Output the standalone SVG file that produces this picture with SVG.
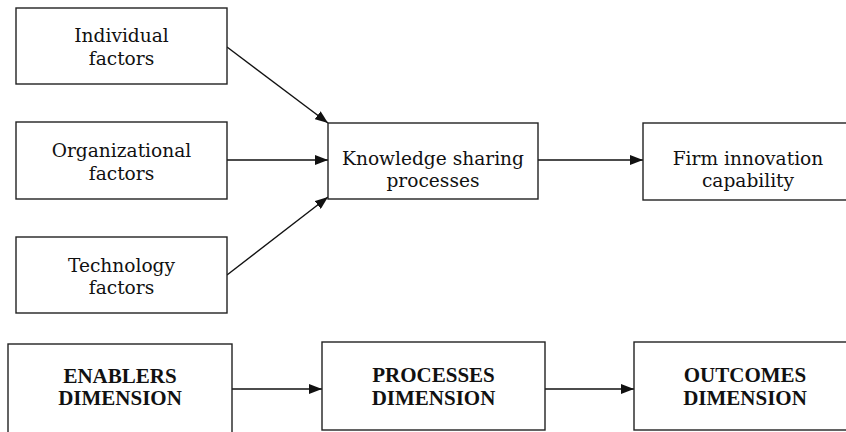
<svg xmlns="http://www.w3.org/2000/svg" width="846" height="432" viewBox="0 0 846 432">
<style>
.box{fill:#fff;stroke:#222;stroke-width:1.4}
.t{font-family:"DejaVu Serif","Liberation Serif",serif;font-size:18.6px;fill:#111;text-anchor:middle}
.b{font-family:"Liberation Serif",serif;font-weight:bold;font-size:21px;fill:#111;text-anchor:middle}
.c{stroke:#111;stroke-width:1.4;fill:none;marker-end:url(#ah)}
</style>
<defs>
<marker id="ah" viewBox="0 0 13 10" refX="13" refY="5" markerWidth="13" markerHeight="10" markerUnits="userSpaceOnUse" orient="auto">
<path d="M0,0 L13,5 L0,10 Z" fill="#111"/>
</marker>
</defs>
<rect width="846" height="432" fill="#fff"/>
<g id="connectors">
<line class="c" x1="227" y1="47" x2="328" y2="123"/>
<line class="c" x1="227" y1="160" x2="328" y2="160"/>
<line class="c" x1="227" y1="275" x2="328" y2="197"/>
<line class="c" x1="538" y1="160" x2="643" y2="160"/>
<line class="c" x1="232" y1="389" x2="322" y2="389"/>
<line class="c" x1="545" y1="389" x2="634" y2="389"/>
</g>
<g id="individual">
<rect class="box" x="16" y="8" width="211" height="76"/>
<text class="t" x="121.5" y="42">Individual</text>
<text class="t" x="121.5" y="65">factors</text>
</g>
<g id="organizational">
<rect class="box" x="16" y="122" width="211" height="77"/>
<text class="t" x="121.5" y="157">Organizational</text>
<text class="t" x="121.5" y="180">factors</text>
</g>
<g id="technology">
<rect class="box" x="16" y="237" width="211" height="76"/>
<text class="t" x="121.5" y="272">Technology</text>
<text class="t" x="121.5" y="294">factors</text>
</g>
<g id="knowledge">
<rect class="box" x="328" y="123" width="210" height="76"/>
<text class="t" x="433" y="165">Knowledge sharing</text>
<text class="t" x="433" y="187">processes</text>
</g>
<g id="firm">
<rect class="box" x="643" y="123" width="212" height="77"/>
<text class="t" x="748" y="165">Firm innovation</text>
<text class="t" x="748" y="187">capability</text>
</g>
<g id="enablers">
<rect class="box" x="8" y="344" width="224" height="92"/>
<text class="b" x="120" y="383">ENABLERS</text>
<text class="b" x="120" y="405">DIMENSION</text>
</g>
<g id="processes">
<rect class="box" x="322" y="342" width="223" height="88"/>
<text class="b" x="433.5" y="382">PROCESSES</text>
<text class="b" x="433.5" y="405">DIMENSION</text>
</g>
<g id="outcomes">
<rect class="box" x="634" y="342" width="222" height="88"/>
<text class="b" x="745" y="382">OUTCOMES</text>
<text class="b" x="745" y="405">DIMENSION</text>
</g>
</svg>
